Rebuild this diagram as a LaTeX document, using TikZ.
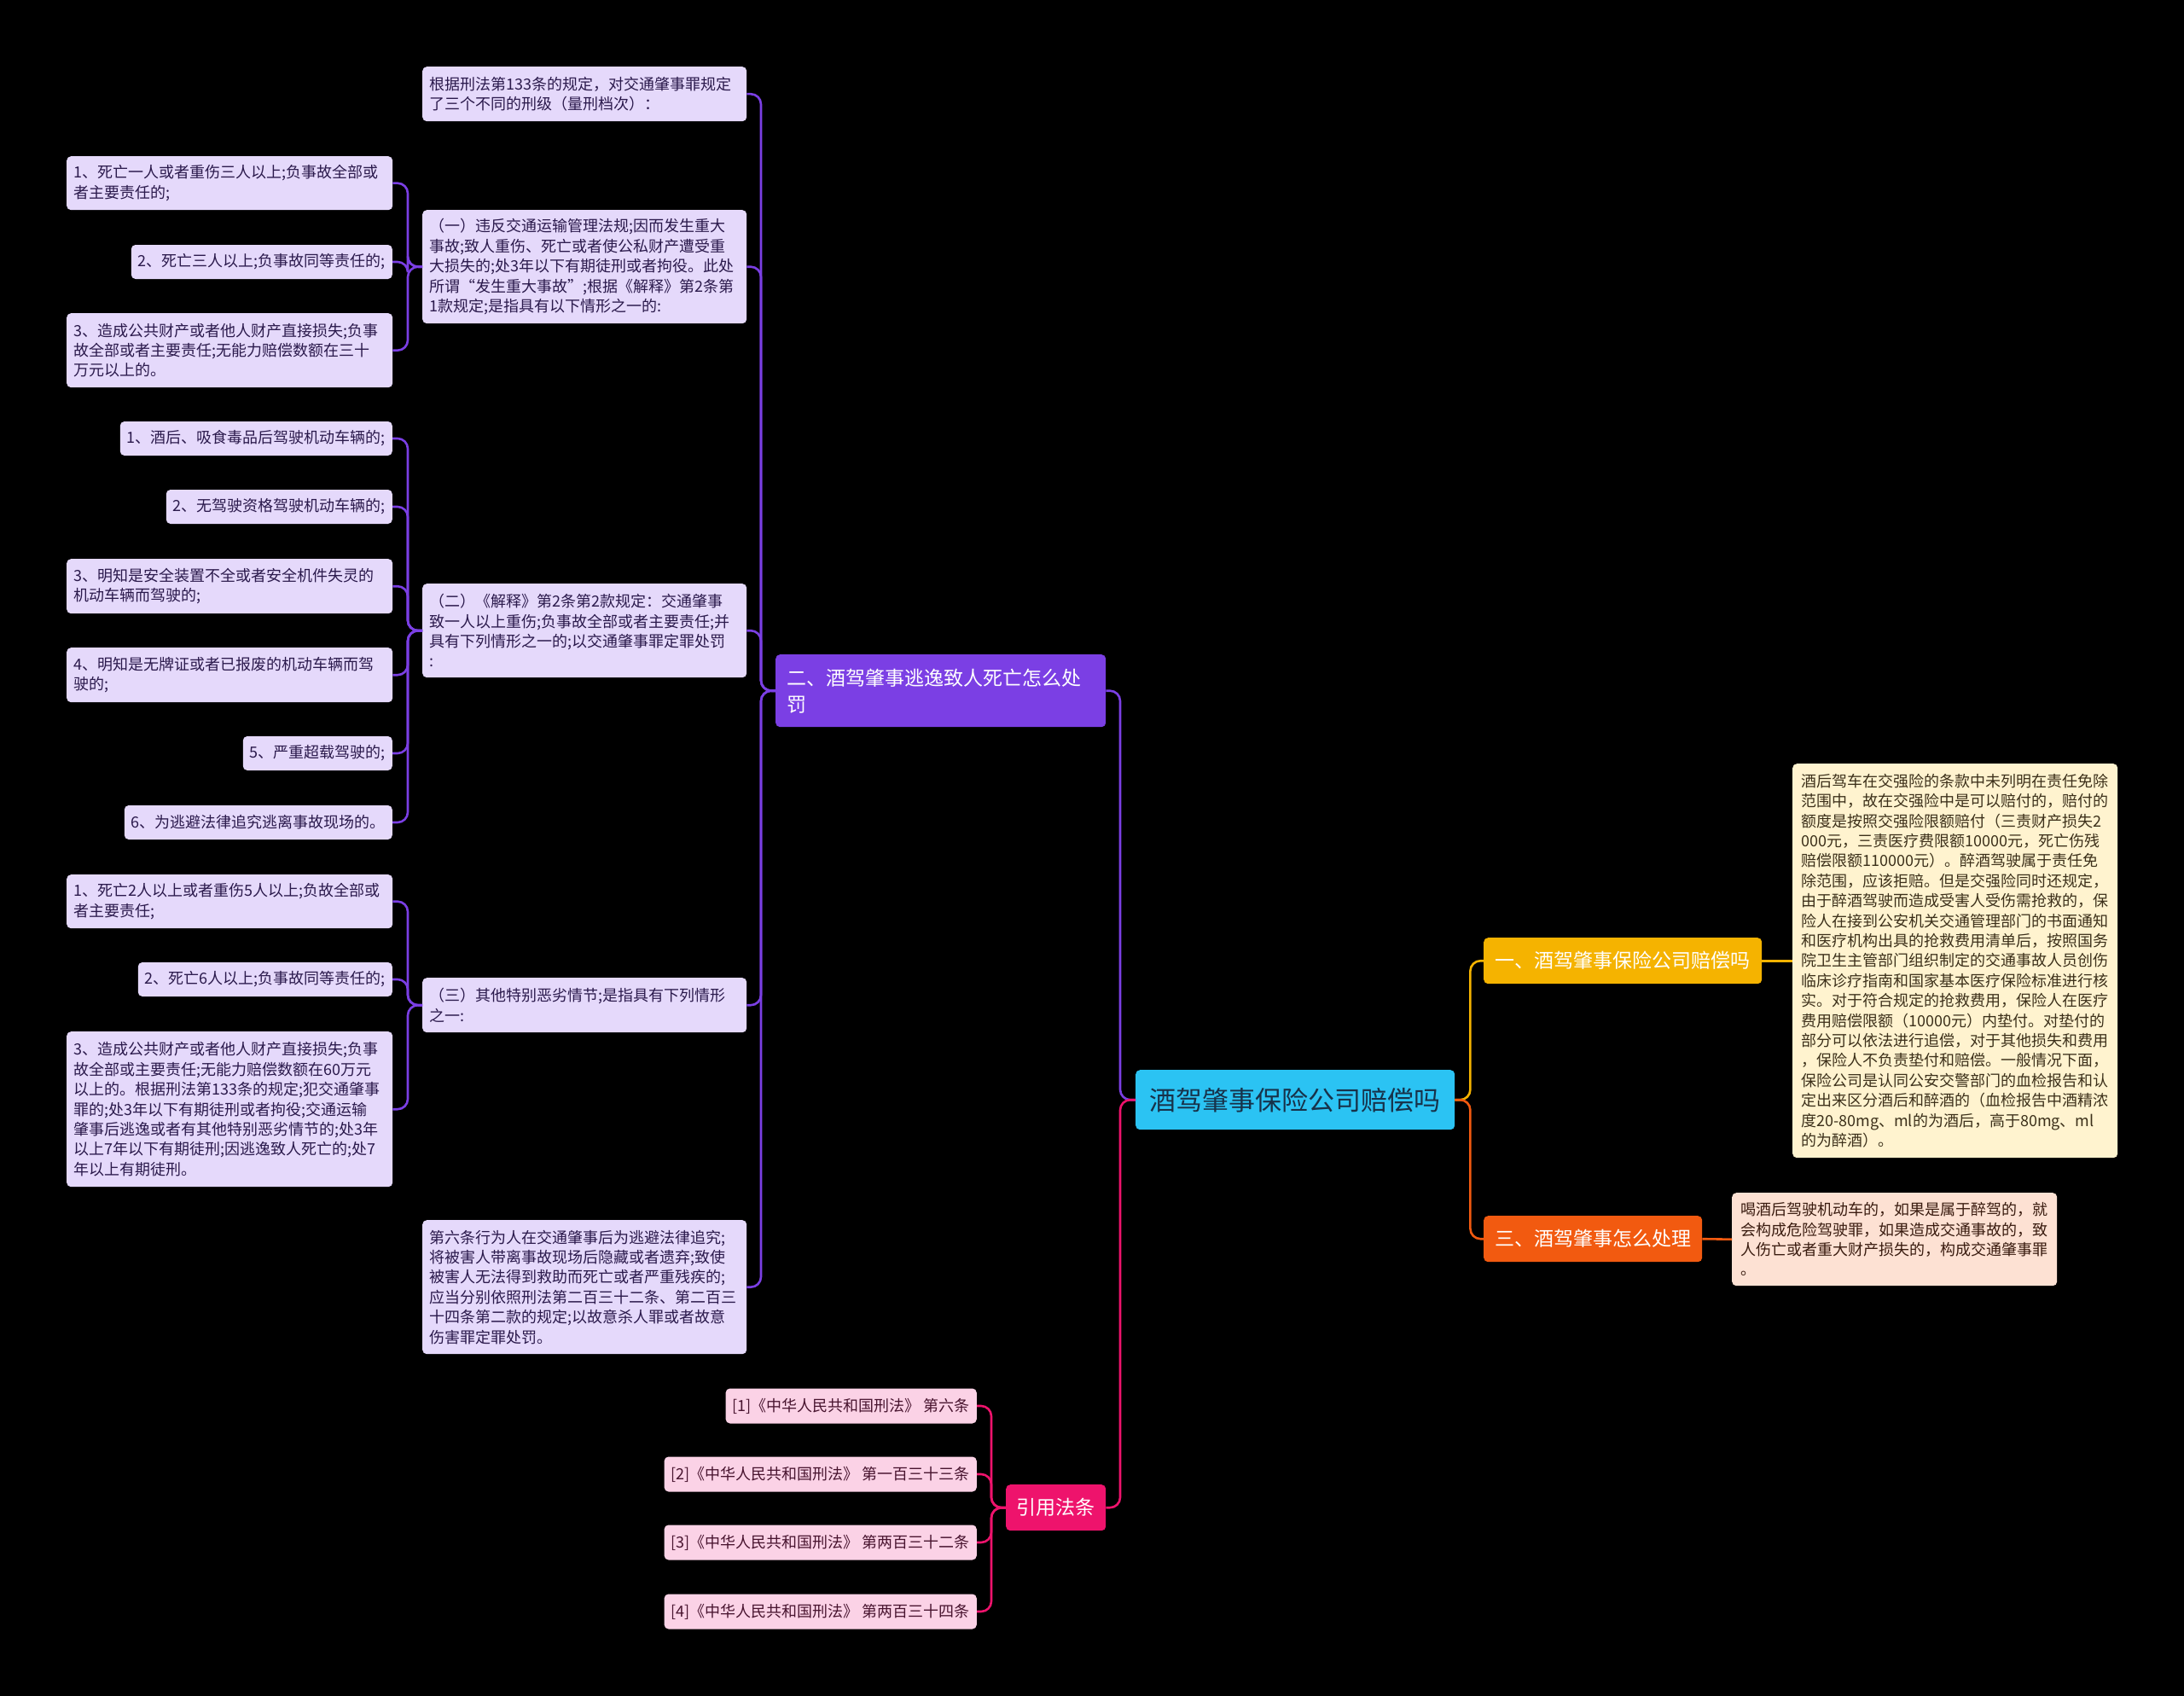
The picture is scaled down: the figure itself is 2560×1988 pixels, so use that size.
\documentclass[tikz,border=0pt]{standalone}
\usepackage{fontspec}
\setmainfont{Noto Sans CJK SC}
\XeTeXlinebreaklocale "zh"
\XeTeXlinebreakskip=0pt plus 1pt
\definecolor{rootC}{HTML}{2BC3F3}
\definecolor{rootT}{HTML}{17324A}
\definecolor{purC}{HTML}{7B3FE4}
\definecolor{purL}{HTML}{E5D9FB}
\definecolor{purT}{HTML}{2B1A4C}
\definecolor{pinkC}{HTML}{EE136C}
\definecolor{pinkL}{HTML}{FBD2E6}
\definecolor{pinkT}{HTML}{48142F}
\definecolor{yelC}{HTML}{F5B300}
\definecolor{yelL}{HTML}{FFF3CF}
\definecolor{yelT}{HTML}{3C301A}
\definecolor{orC}{HTML}{F25A10}
\definecolor{orL}{HTML}{FDE1D3}
\definecolor{orT}{HTML}{3A1C10}
\newcommand\fsleaf{\fontsize{18}{23.4}\selectfont}
\newcommand\fsbr{\fontsize{23}{31}\selectfont}
\tikzset{
  box/.style={rounded corners=5pt, inner xsep=8pt, inner ysep=3pt, align=left},
  pleaf/.style={box, fill=purL, text=purT, font=\fsleaf},
  kleaf/.style={box, fill=pinkL, text=pinkT, font=\fsleaf},
  brbox/.style={rounded corners=5pt, inner xsep=8pt, text=white, font=\fsbr, align=center},
  conn/.style={line width=2.6pt, rounded corners=12pt},
}
\begin{document}
\begin{tikzpicture}[x=1pt,y=-1pt]
\useasboundingbox (0,0) rectangle (2560,1988);
\fill[black] (0,0) rectangle (2560,1988);

% root
\node[rounded corners=5pt, fill=rootC, text=rootT, font=\fontsize{31}{36}\selectfont,
  minimum width=374, minimum height=70, anchor=north west] (root) at (1331,1254) {酒驾肇事保险公司赔偿吗};

% right branches
\node[brbox, fill=yelC, minimum width=326, minimum height=54, anchor=north west] (b1) at (1739,1099) {一、酒驾肇事保险公司赔偿吗};
\node[brbox, fill=orC, minimum width=256, minimum height=54, anchor=north west] (b3) at (1739,1425) {三、酒驾肇事怎么处理};

\node[box, fill=yelL, text=yelT, font=\fsleaf, inner xsep=10pt, text width=361, minimum width=381, minimum height=462, anchor=north west] (y1) at (2101,895) {酒后驾车在交强险的条款中未列明在责任免除\\范围中，故在交强险中是可以赔付的，赔付的\\额度是按照交强险限额赔付（三责财产损失2\\000元，三责医疗费限额10000元，死亡伤残\\赔偿限额110000元）。醉酒驾驶属于责任免\\除范围，应该拒赔。但是交强险同时还规定，\\由于醉酒驾驶而造成受害人受伤需抢救的，保\\险人在接到公安机关交通管理部门的书面通知\\和医疗机构出具的抢救费用清单后，按照国务\\院卫生主管部门组织制定的交通事故人员创伤\\临床诊疗指南和国家基本医疗保险标准进行核\\实。对于符合规定的抢救费用，保险人在医疗\\费用赔偿限额（10000元）内垫付。对垫付的\\部分可以依法进行追偿，对于其他损失和费用\\，保险人不负责垫付和赔偿。一般情况下面，\\保险公司是认同公安交警部门的血检报告和认\\定出来区分酒后和醉酒的（血检报告中酒精浓\\度20-80mg、ml的为酒后，高于80mg、ml\\的为醉酒）。};

\node[box, fill=orL, text=orT, font=\fsleaf, inner xsep=10pt, text width=361, minimum width=381, minimum height=109, anchor=north west] (o1) at (2030,1398) {喝酒后驾驶机动车的，如果是属于醉驾的，就\\会构成危险驾驶罪，如果造成交通事故的，致\\人伤亡或者重大财产损失的，构成交通肇事罪\\。};

% left branches
\node[brbox, fill=purC, align=left, inner xsep=13pt, text width=361, minimum width=387, minimum height=85, anchor=north west] (b2) at (909,767) {二、酒驾肇事逃逸致人死亡怎么处\\罚};
\node[brbox, fill=pinkC, minimum width=117, minimum height=54, anchor=north west] (b4) at (1179,1740) {引用法条};

% references
\node[kleaf, minimum height=41, anchor=east] (r1) at (1145,1648) {[1]《中华人民共和国刑法》 第六条};
\node[kleaf, minimum height=41, anchor=east] (r2) at (1145,1728) {[2]《中华人民共和国刑法》 第一百三十三条};
\node[kleaf, minimum height=41, anchor=east] (r3) at (1145,1808) {[3]《中华人民共和国刑法》 第两百三十二条};
\node[kleaf, minimum height=41, anchor=east] (r4) at (1145,1889) {[4]《中华人民共和国刑法》 第两百三十四条};

% middle column
\node[pleaf, text width=364, minimum width=380, minimum height=64, anchor=north west] (m1) at (495,78) {根据刑法第133条的规定，对交通肇事罪规定\\了三个不同的刑级（量刑档次）：};
\node[pleaf, text width=364, minimum width=380, minimum height=133, anchor=north west] (m2) at (495,246) {（一）违反交通运输管理法规;因而发生重大\\事故;致人重伤、死亡或者使公私财产遭受重\\大损失的;处3年以下有期徒刑或者拘役。此处\\所谓“发生重大事故”;根据《解释》第2条第\\1款规定;是指具有以下情形之一的:};
\node[pleaf, text width=364, minimum width=380, minimum height=110, anchor=north west] (m3) at (495,684) {（二）《解释》第2条第2款规定：交通肇事\\致一人以上重伤;负事故全部或者主要责任;并\\具有下列情形之一的;以交通肇事罪定罪处罚\\:};
\node[pleaf, text width=364, minimum width=380, minimum height=64, anchor=north west] (m4) at (495,1146) {（三）其他特别恶劣情节;是指具有下列情形\\之一:};
\node[pleaf, text width=364, minimum width=380, minimum height=157, anchor=north west] (m5) at (495,1430) {第六条行为人在交通肇事后为逃避法律追究;\\将被害人带离事故现场后隐藏或者遗弃;致使\\被害人无法得到救助而死亡或者严重残疾的;\\应当分别依照刑法第二百三十二条、第二百三\\十四条第二款的规定;以故意杀人罪或者故意\\伤害罪定罪处罚。};

% leaves of m2
\node[pleaf, text width=366, minimum width=382, minimum height=63, anchor=north west] (l1) at (78,183) {1、死亡一人或者重伤三人以上;负事故全部或\\者主要责任的;};
\node[pleaf, minimum height=40, anchor=east] (l2) at (460,307) {2、死亡三人以上;负事故同等责任的;};
\node[pleaf, text width=366, minimum width=382, minimum height=87, anchor=north west] (l3) at (78,367) {3、造成公共财产或者他人财产直接损失;负事\\故全部或者主要责任;无能力赔偿数额在三十\\万元以上的。};

% leaves of m3
\node[pleaf, minimum height=40, anchor=east] (c1) at (460,514) {1、酒后、吸食毒品后驾驶机动车辆的;};
\node[pleaf, minimum height=40, anchor=east] (c2) at (460,594) {2、无驾驶资格驾驶机动车辆的;};
\node[pleaf, text width=366, minimum width=382, minimum height=64, anchor=north west] (c3) at (78,655) {3、明知是安全装置不全或者安全机件失灵的\\机动车辆而驾驶的;};
\node[pleaf, text width=366, minimum width=382, minimum height=64, anchor=north west] (c4) at (78,759) {4、明知是无牌证或者已报废的机动车辆而驾\\驶的;};
\node[pleaf, minimum height=40, anchor=east] (c5) at (460,883) {5、严重超载驾驶的;};
\node[pleaf, minimum height=40, anchor=east] (c6) at (460,964) {6、为逃避法律追究逃离事故现场的。};

% leaves of m4
\node[pleaf, text width=366, minimum width=382, minimum height=63, anchor=north west] (d1) at (78,1025) {1、死亡2人以上或者重伤5人以上;负故全部或\\者主要责任;};
\node[pleaf, minimum height=40, anchor=east] (d2) at (460,1148) {2、死亡6人以上;负事故同等责任的;};
\node[pleaf, text width=366, minimum width=382, minimum height=182, anchor=north west] (d3) at (78,1209) {3、造成公共财产或者他人财产直接损失;负事\\故全部或主要责任;无能力赔偿数额在60万元\\以上的。根据刑法第133条的规定;犯交通肇事\\罪的;处3年以下有期徒刑或者拘役;交通运输\\肇事后逃逸或者有其他特别恶劣情节的;处3年\\以上7年以下有期徒刑;因逃逸致人死亡的;处7\\年以上有期徒刑。};

% connectors: root
\draw[conn, draw=purC] (root.west) -- ++(-18,0) |- (b2.east);
\draw[conn, draw=pinkC] (root.west) -- ++(-18,0) |- (b4.east);
\draw[conn, draw=yelC] (root.east) -- ++(18,0) |- (b1.west);
\draw[conn, draw=orC] (root.east) -- ++(18,0) |- (b3.west);
\draw[conn, draw=yelC] (b1.east) -- (y1.west);
\draw[conn, draw=orC] (b3.east) -- (o1.west);

% connectors: b2
\foreach \c in {m1,m2,m3,m4,m5}
  \draw[conn, draw=purC] (b2.west) -- ++(-17,0) |- (\c.east);
\foreach \c in {l1,l2,l3}
  \draw[conn, draw=purC] (m2.west) -- ++(-17,0) |- (\c.east);
\foreach \c in {c1,c2,c3,c4,c5,c6}
  \draw[conn, draw=purC] (m3.west) -- ++(-17,0) |- (\c.east);
\foreach \c in {d1,d2,d3}
  \draw[conn, draw=purC] (m4.west) -- ++(-17,0) |- (\c.east);

% connectors: references
\foreach \c in {r1,r2,r3,r4}
  \draw[conn, draw=pinkC] (b4.west) -- ++(-17,0) |- (\c.east);
\end{tikzpicture}
\end{document}
